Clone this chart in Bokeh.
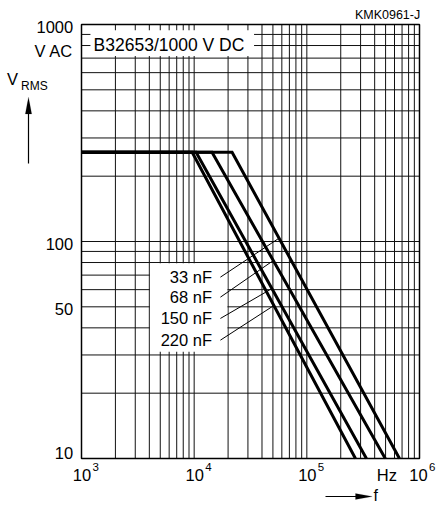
import numpy as np
from bokeh.plotting import figure
from bokeh.models import Label, Arrow, PolyAnnotation
from bokeh.core.properties import value
from bokeh.embed import file_html
from bokeh.resources import INLINE

# ---------------- data ----------------
caps = ["33 nF", "68 nF", "150 nF", "220 nF"]
v_flat = 258.0
v_end = 10.0
f_start = 1e3
f_bend = [2.17e4, 1.44e4, 1.04e4, 9.6e3]
f_end = [6.64e5, 4.97e5, 3.38e5, 2.70e5]

x_grid = [2e3, 3e3, 4e3, 5e3, 6e3, 7e3, 8e3, 9e3, 1e4,
          2e4, 3e4, 4e4, 5e4, 6e4, 7e4, 8e4, 9e4, 1e5,
          2e5, 3e5, 4e5, 5e5, 6e5, 7e5, 8e5, 9e5]
y_grid = [20, 30, 40, 50, 60, 80, 90, 100, 200, 300, 400, 500, 600, 700, 800, 900]
y_grid_partial = [70]
x_min, x_max = 1e3, 1e6
y_min, y_max = 10, 1000
y_ticks = [1000, 100, 50, 10]
y_tick_labels = ["1000", "100", "50", "10"]
x_ticks = [1e3, 1e4, 1e5, 1e6]
x_tick_exps = ["3", "4", "5", "6"]

label_v = [68.5, 55.4, 44.2, 35.1]      # label rows
leader_v = [103.6, 81.7, 60.7, 50.7]     # where leaders touch curves

# ---------------- layout ----------------
W, H = 438, 507
FL, FT, FR, FB = 81, 24, 419, 458          # plot area inside the canvas
FONT = "Liberation Sans"

lx0, lx1_ = np.log10(x_min), np.log10(x_max)
ly0, ly1 = np.log10(y_min), np.log10(y_max)
pxd = (FR - FL) / (lx1_ - lx0)
pyd = (FB - FT) / (ly1 - ly0)
xr = (10 ** (lx0 - FL / pxd), 10 ** (lx1_ + (W - FR) / pxd))
yr = (10 ** (ly0 - (H - FB) / pyd), 10 ** (ly1 + FT / pyd))

p = figure(width=W, height=H, x_axis_type="log", y_axis_type="log",
           x_range=xr, y_range=yr,
           x_axis_location=None, y_axis_location=None, title=None,
           output_backend="svg", toolbar_location=None,
           min_border_left=0, min_border_right=0, min_border_top=0, min_border_bottom=0)
p.xgrid.visible = False
p.ygrid.visible = False
p.outline_line_color = None
p.background_fill_color = "white"
p.border_fill_color = "white"

GC = "#111111"
# vertical grid
p.segment(x0=x_grid, y0=[y_min] * len(x_grid), x1=x_grid, y1=[y_max] * len(x_grid),
          line_color=GC, line_width=1)
# horizontal grid
p.segment(x0=[x_min] * len(y_grid), y0=y_grid, x1=[x_max] * len(y_grid), y1=y_grid,
          line_color=GC, line_width=1)
p.segment(x0=[x_min], y0=y_grid_partial, x1=[4.05e3], y1=y_grid_partial,
          line_color=GC, line_width=1)

# white label boxes
p.quad(left=[1.2e3, 4.05e3], right=[3.4e4, 1.97e4], bottom=[715, 31], top=[940, 79.4],
       fill_color="white", line_color=None)

# plot border
p.quad(left=[x_min], right=[x_max], bottom=[y_min], top=[y_max],
       fill_color=None, line_color="black", line_width=1.5)

# curves
for fb, fe in zip(f_bend, f_end):
    p.line(x=[f_start, fb, fe], y=[v_flat, v_flat, v_end], line_color="black",
           line_width=3, line_join="miter")

# leaders
f_label_right = 1.44e4
f_leader_start = 1.71e4
lx1 = []
for fb, fe, lv in zip(f_bend, f_end, leader_v):
    t = (np.log10(v_flat) - np.log10(lv)) / (np.log10(v_flat) - np.log10(v_end))
    lx1.append(10 ** (np.log10(fb) + t * (np.log10(fe) - np.log10(fb))))
p.segment(x0=[f_leader_start] * 4, y0=label_v, x1=lx1, y1=leader_v,
          line_color="black", line_width=1)
p.text(x=[f_label_right] * 4, y=label_v, text=caps, text_align="right",
       text_baseline="middle", text_font=value(FONT), text_font_size="16.5px",
       text_color="black")


def lab(x, y, text, size="16.5px", align="left", base="middle", xu="screen", yu="screen",
        xo=0, yo=0):
    p.add_layout(Label(x=x, y=y, text=text, x_units=xu, y_units=yu, x_offset=xo, y_offset=yo,
                       text_font=FONT, text_font_size=size, text_align=align,
                       text_baseline=base, text_color="black"))


# y tick labels (screen coords measured from canvas bottom-left)
for v, t in zip(y_ticks, y_tick_labels):
    lab(72.7, v, t, align="right", yu="data", yo=(5.5 if v == y_min else -2.5))
lab(72.5, H - 50, "V AC", align="right")
lab(6.5, H - 78.3, "V")
lab(20.5, H - 85.5, "RMS", size="12px")

# x tick labels
for i, (f, e) in enumerate(zip(x_ticks, x_tick_exps)):
    shift = -1 if i == len(x_ticks) - 1 else 0.5
    lab(f, H - 474, "10", align="center", xu="data", xo=shift)
    lab(f, H - 466, e, size="11.5px", align="left", xu="data", xo=shift + 10.5)
lab(386.3, H - 474.5, "Hz", align="center")
lab(373, H - 495, "f", size="16px")

# top texts
lab(419.7, H - 14, "KMK0961-J", size="12.5px", align="right")
lab(168.5, H - 44, "B32653/1000 V DC", size="17.5px", align="center")

# arrows
p.add_layout(Arrow(x_start=28, y_start=H - 163, x_end=28, y_end=H - 112,
                   start_units="screen", end_units="screen", end=None,
                   line_color="black", line_width=1.2))
p.add_layout(PolyAnnotation(xs=[28, 24.8, 31.2], ys=[H - 96.7, H - 113.5, H - 113.5],
                            xs_units="screen", ys_units="screen",
                            fill_color="black", fill_alpha=1, line_color="black", line_width=0.5))
p.add_layout(Arrow(x_start=325, y_start=H - 496, x_end=357, y_end=H - 496,
                   start_units="screen", end_units="screen", end=None,
                   line_color="black", line_width=1.2))
p.add_layout(PolyAnnotation(xs=[371.7, 355, 355], ys=[H - 496, H - 493, H - 499],
                            xs_units="screen", ys_units="screen",
                            fill_color="black", fill_alpha=1, line_color="black", line_width=0.5))

open("out.html", "w").write(file_html(p, INLINE))
